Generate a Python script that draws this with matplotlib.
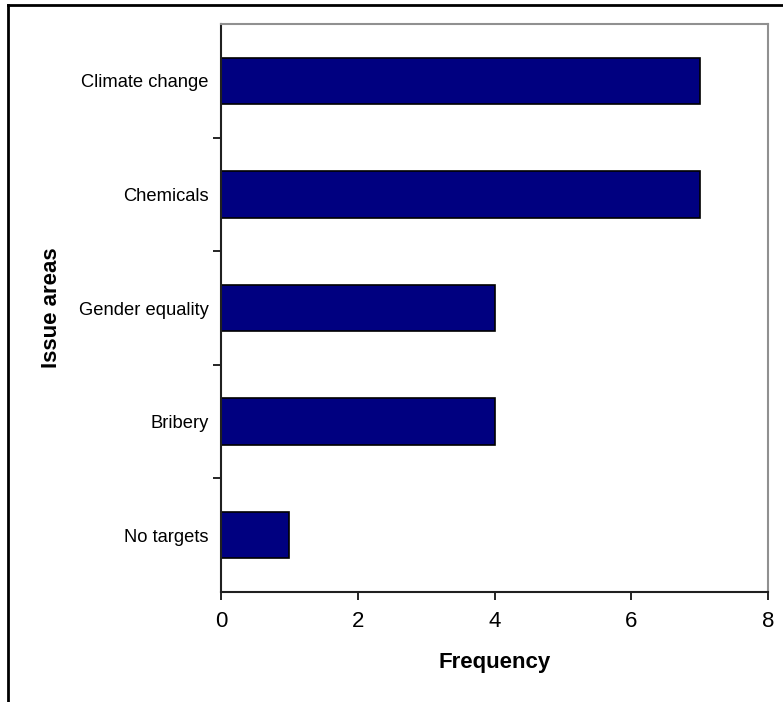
import matplotlib.pyplot as plt
from matplotlib.lines import Line2D

categories = ['No targets', 'Bribery', 'Gender equality', 'Chemicals', 'Climate change']
frequency = [1, 4, 4, 7, 7]
x_ticks = [0, 2, 4, 6, 8]

plt.rcParams['font.family'] = ['Liberation Sans', 'DejaVu Sans']

fig = plt.figure(figsize=(7.83, 7.02), dpi=100)
ax = fig.add_axes([0.2823, 0.1567, 0.6985, 0.8091])

ax.barh(range(len(categories)), frequency, height=0.41,
        color='#000080', edgecolor='black', linewidth=1.2)

ax.set_xlim(0, 8)
ax.set_ylim(-0.5, len(categories) - 0.5)
ax.set_xticks(x_ticks)
ax.set_xticklabels([str(t) for t in x_ticks], fontsize=16)
ax.set_yticks(range(len(categories)))
ax.set_yticklabels(categories, fontsize=13.2)
ax.tick_params(axis='y', length=0, pad=9)
ax.tick_params(axis='x', length=6, width=1.2, pad=8, direction='out')

# category boundary ticks on the y axis
ax.set_yticks([i + 0.5 for i in range(len(categories) - 1)], minor=True)
ax.tick_params(axis='y', which='minor', length=6, width=1.2, direction='out')

for side in ['top', 'right']:
    ax.spines[side].set_color('#909090')
    ax.spines[side].set_linewidth(1.5)
for side in ['left', 'bottom']:
    ax.spines[side].set_color('#202020')
    ax.spines[side].set_linewidth(1.5)

ax.set_xlabel('Frequency', fontsize=16, fontweight='bold', labelpad=14)
ax.set_ylabel('Issue areas', fontsize=16, fontweight='bold', labelpad=12)

# outer frame: left and top edges only
fig.add_artist(Line2D([0.0105, 0.0105], [0, 0.993], transform=fig.transFigure,
                      color='black', linewidth=2))
fig.add_artist(Line2D([0.0105, 1.0], [0.993, 0.993], transform=fig.transFigure,
                      color='black', linewidth=2))

fig.savefig('out.png', dpi=100)
